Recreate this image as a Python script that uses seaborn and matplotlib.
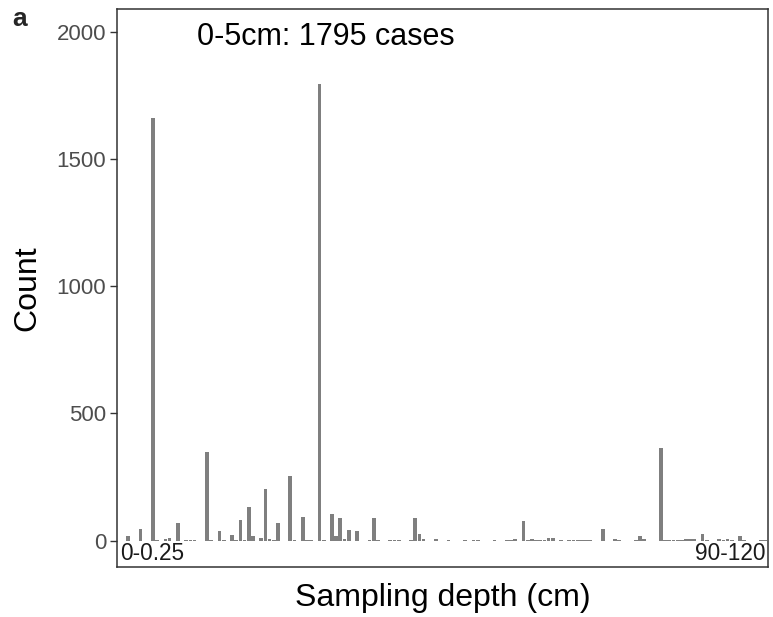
import matplotlib
matplotlib.use("Agg")
import matplotlib.pyplot as plt
import seaborn as sns
import pandas as pd

# ---- data ----
first_label = "0-0.25"
last_label = "90-120"
n_bins = 156
# nonzero counts by bin index (all other bins are 0)
nonzero_index = [2, 5, 8, 9, 11, 12, 14, 16, 17, 18, 21, 22, 24, 25, 27, 28, 29, 30,
                 31, 32, 34, 35, 36, 37, 38, 41, 42, 44, 45, 46, 48, 49, 51, 52, 53,
                 54, 55, 57, 60, 61, 62, 65, 66, 67, 70, 71, 72, 73, 76, 79, 83, 85,
                 86, 90, 93, 94, 95, 97, 98, 99, 100, 101, 102, 103, 104, 106, 108,
                 109, 110, 111, 112, 113, 116, 119, 120, 124, 125, 126, 130, 131, 132,
                 133, 134, 135, 136, 137, 138, 140, 141, 144, 145, 146, 147, 149, 150,
                 154, 155]
nonzero_count = [18, 45, 1660, 1, 5, 12, 68, 2, 2, 1, 347, 2, 38, 2, 22, 4, 81, 3,
                 133, 18, 12, 203, 8, 3, 71, 256, 2, 92, 3, 2, 1795, 2, 104, 18, 88,
                 5, 42, 39, 2, 88, 2, 3, 1, 1, 1, 89, 25, 5, 7, 4, 2, 3,
                 2, 2, 2, 4, 6, 76, 4, 7, 2, 3, 4, 9, 12, 1, 1,
                 1, 1, 1, 1, 1, 47, 8, 4, 2, 17, 6, 366, 4, 3,
                 3, 3, 3, 5, 6, 6, 25, 2, 6, 3, 5, 2, 18, 2,
                 2, 2]
y_ticks = [0, 500, 1000, 1500, 2000]
title_text = "0-5cm: 1795 cases"

bins = [first_label] + [f"bin{j}" for j in range(1, n_bins - 1)] + [last_label]
counts = [0] * n_bins
for idx, c in zip(nonzero_index, nonzero_count):
    counts[idx] = c
df = pd.DataFrame({"depth": bins, "count": counts})

sns.set_theme(style="white")
plt.rcParams["font.family"] = ["Liberation Sans", "DejaVu Sans"]

fig = plt.figure(figsize=(7.73, 6.17), dpi=100)
ax = fig.add_axes([117.3 / 773, (617 - 566.7) / 617, (768 - 117.3) / 773, (566.7 - 9) / 617])

sns.barplot(data=df, x="depth", y="count", order=bins, color="#7F7F7F",
            saturation=1, width=0.9, ax=ax, errorbar=None, linewidth=0, edgecolor="none")

ax.set_xlim(-0.56, 155.7)
ax.set_ylim(-102, 2089)
ax.set_yticks(y_ticks)
ax.set_yticklabels([str(t) for t in y_ticks], fontsize=16, color="#4D4D4D")
ax.set_xticks([])
ax.tick_params(axis="y", length=5, width=1, color="#333333", direction="out", pad=3, left=True)
for s in ax.spines.values():
    s.set_color("#333333")
    s.set_linewidth(1.1)

ax.set_xlabel("Sampling depth (cm)", fontsize=23, color="black", labelpad=12)
ax.set_ylabel("Count", fontsize=23, color="black", labelpad=10)

ax.text(0, -50, first_label, ha="left", va="center", fontsize=16.3, color="#1A1A1A")
ax.text(n_bins - 1, -50, last_label, ha="right", va="center", fontsize=16.3, color="#1A1A1A")
ax.text(49.4, 1980, title_text, ha="center", va="center", fontsize=22, color="black")

fig.text(12 / 773, 1 - 19 / 617, "a", fontsize=19, fontweight="bold", ha="left", va="center")

fig.savefig("out.png", dpi=100)
